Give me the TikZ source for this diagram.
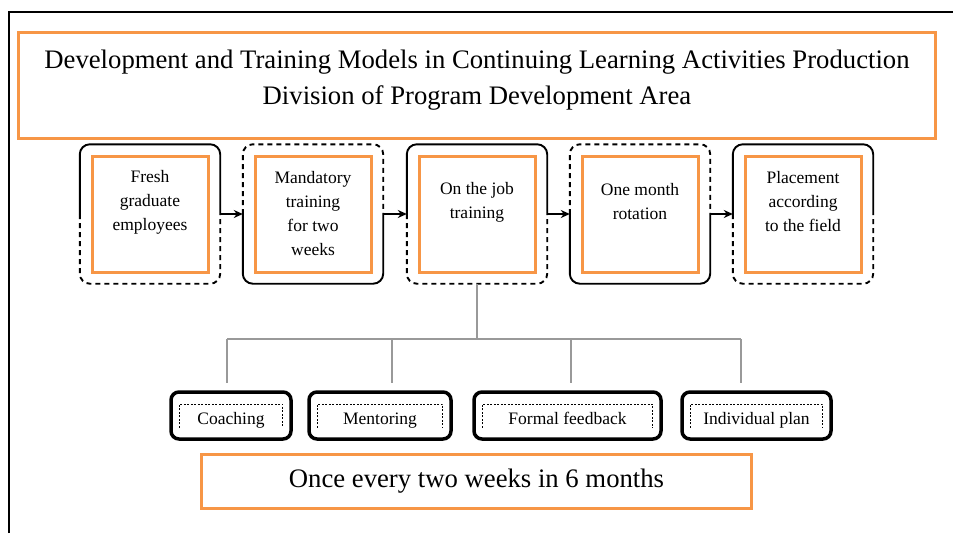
\documentclass[tikz,border=0pt]{standalone}
\usepackage{fontspec}
\setmainfont{Liberation Serif}
\usetikzlibrary{arrows.meta,calc}
\definecolor{boxorange}{HTML}{F79646}

\tikzset{
	orangebox/.style={draw=boxorange, line width=3pt, fill=white, inner sep=0pt},
	stepbox/.style={orangebox, minimum width=116pt, minimum height=116pt},
	steptext/.style={align=center, font=\fontsize{17.5}{24}\selectfont},
	frame/.style={minimum width=140pt, minimum height=139pt, inner sep=0pt},
	snake/.style={line width=1.9pt, rounded corners=10pt},
	halfdash/.style={snake, dash pattern=on 5pt off 4pt},
	methodbox/.style={draw, line width=3.5pt, rounded corners=8pt, minimum height=47pt, inner sep=0pt, text height=21pt, text depth=4pt, font=\fontsize{17.5}{20}\selectfont},
	innerdash/.style={line width=0.6pt, dash pattern=on 2pt off 1.5pt},
	treeline/.style={draw=black!40, line width=1.2pt}
}

\begin{document}
\begin{tikzpicture}[x=1pt, y=-1pt]
		%%%%% START %%%%%
		\useasboundingbox (0,0) rectangle (953,533);
		
		\draw[line width=2pt] (9,533) -- (9,12) -- (953,12);
		
		\node[orangebox, minimum width=917pt, minimum height=106pt] (title) at (477,85.5) {};
		\node[align=center, font=\fontsize{26.7}{36}\selectfont] (titletext) at (477,80)
			{Development and Training Models in Continuing Learning Activities Production\\Division of Program Development Area};
		
		\foreach \i/\x in {1/150,2/313,3/477,4/640,5/803} {
			\node[frame] (f\i) at (\x,214) {};
			\node[stepbox] (s\i) at (\x,214) {};
		}
		
		\foreach \i in {1,3,5} {
			\draw[snake] (f\i.west) |- (f\i.north) -| (f\i.east);
			\draw[halfdash] (f\i.west) |- (f\i.south) -| (f\i.east);
		}
		\foreach \i in {2,4} {
			\draw[halfdash] (f\i.west) |- (f\i.north) -| (f\i.east);
			\draw[snake] (f\i.west) |- (f\i.south) -| (f\i.east);
		}
		\foreach \i/\j in {1/2,2/3,3/4,4/5}
			\draw[snake, -{Stealth[length=9pt,width=8pt]}] (f\i.east) -- (f\j.west);
		
		\node[steptext] (t1) at ([yshift=12pt]s1.center) {Fresh\\graduate\\employees};
		\node[steptext] (t2) at (s2.center) {Mandatory\\training\\for two\\weeks};
		\node[steptext] (t3) at ([yshift=12pt]s3.center) {On the job\\training};
		\node[steptext] (t4) at ([yshift=12pt]s4.center) {One month\\rotation};
		\node[steptext] (t5) at ([yshift=12pt]s5.center) {Placement\\according\\to the field};
		
		% methods of on the job training
		\node[methodbox, minimum width=120pt] (coach) at (231,415.5) {Coaching};
		\node[methodbox, minimum width=142pt] (mentor) at (380,415.5) {Mentoring};
		\node[methodbox, minimum width=187pt] (feedback) at (567.5,415.5) {Formal feedback};
		\node[methodbox, minimum width=149pt] (plan) at (756.5,415.5) {Individual plan};
		\foreach \n in {coach,mentor,feedback,plan}
			\draw[innerdash] ([shift={(10,-13)}]\n.south west) |- ([shift={(-10,14)}]\n.north east) -- ([shift={(-10,-13)}]\n.south east);
		
		\coordinate (d1) at (227,339);
		\coordinate (d2) at (392,339);
		\coordinate (d3) at (571,339);
		\coordinate (d4) at (741,339);
		\draw[treeline] (f3.south) -- (f3.south |- d1);
		\draw[treeline] (d1) -- (d4);
		\foreach \d/\m in {d1/coach,d2/mentor,d3/feedback,d4/plan}
			\draw[treeline, shorten >=7pt] (\d) -- (\d |- \m.north);
		
		\node[orangebox, minimum width=550pt, minimum height=54pt, font=\fontsize{26.7}{30}\selectfont] (freq) at (476.5,481.5) {Once every two weeks in 6 months};
		%%%%% END %%%%%
\end{tikzpicture}
\end{document}
